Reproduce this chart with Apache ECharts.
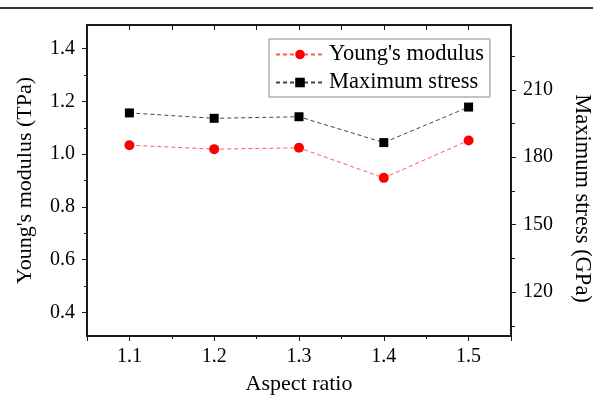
<!DOCTYPE html>
<html>
<head>
<meta charset="utf-8">
<script src="https://cdn.jsdelivr.net/npm/echarts@6/dist/echarts.min.js"></script>
<style>
  html, body { margin: 0; padding: 0; background: #fff; }
  #wrap { position: relative; width: 593px; height: 397px; }
  #rule { position: absolute; left: 0; top: 7px; width: 593px; height: 2px; background: #333; }
  #chart { position: absolute; left: 0; top: 0; width: 593px; height: 397px; }
</style>
</head>
<body>
<div id="wrap">
  <div id="rule"></div>
  <div id="chart"></div>
</div>
<script>
// values
const ratios = [1.1, 1.2, 1.3, 1.4, 1.5];
const modulus = [1.034, 1.019, 1.024, 0.910, 1.052];
const stress = [199.7, 197.3, 198.0, 186.5, 202.3];
const modulusTicks = [0.4, 0.6, 0.8, 1.0, 1.2, 1.4];
const stressTicks = [120, 150, 180, 210];

const font = 'Liberation Serif';
const line = () => ({ show: true, onZero: false, lineStyle: { color: '#1a1a1a', width: 2 } });
const nameStyle = size => ({ fontFamily: font, fontSize: size, color: '#000' });
const tick = { color: '#1a1a1a', width: 1 };

var myChart = echarts.init(document.getElementById('chart'));
myChart.setOption({
    animation: false,
    grid: { left: 87, right: 82, top: 25, bottom: 61, outerBoundsMode: 'none' },
    legend: {
        orient: 'vertical',
        left: 269,
        top: 39,
        padding: [4, 6, 3, 6],
        itemGap: 5,
        itemWidth: 48,
        itemHeight: 12,
        borderColor: '#888',
        borderWidth: 1,
        textStyle: nameStyle(22.5),
        data: ["Young's modulus", 'Maximum stress']
    },
    xAxis: [
        {
            type: 'value',
            min: 1.05,
            max: 1.55,
            name: 'Aspect ratio',
            nameLocation: 'middle',
            nameGap: 37,
            nameTextStyle: nameStyle(22),
            axisLine: line(),
            axisTick: { length: 5, lineStyle: tick },
            minorTick: { show: true, splitNumber: 2, length: 3, lineStyle: tick },
            axisLabel: {
                customValues: ratios,
                margin: 11,
                fontFamily: font, fontSize: 20, color: '#000',
                formatter: v => v.toFixed(1)
            },
            splitLine: { show: false }
        },
        {
            type: 'value',
            position: 'top',
            min: 1.05,
            max: 1.55,
            axisLine: line(),
            axisTick: { inside: true, length: 5, lineStyle: tick },
            minorTick: { show: true, splitNumber: 2, length: 5, lineStyle: tick },
            axisLabel: { show: false },
            splitLine: { show: false }
        }
    ],
    yAxis: [
        {
            type: 'value',
            min: 0.31,
            max: 1.49,
            name: "Young's modulus (TPa)",
            nameLocation: 'middle',
            nameGap: 51,
            nameTextStyle: nameStyle(22),
            axisLine: line(),
            axisTick: { customValues: modulusTicks, length: 5, lineStyle: tick },
            minorTick: { show: true, splitNumber: 2, length: 3, lineStyle: tick },
            axisLabel: {
                customValues: modulusTicks,
                margin: 12,
                fontFamily: font, fontSize: 20, color: '#000',
                formatter: v => v.toFixed(1)
            },
            splitLine: { show: false }
        },
        {
            type: 'value',
            position: 'right',
            min: 100.5,
            max: 238.8,
            name: 'Maximum stress (GPa)',
            nameLocation: 'middle',
            nameGap: 59,
            nameRotate: -90,
            nameTextStyle: Object.assign(nameStyle(22.5), { padding: [0, 0, 0, 36] }),
            axisLine: line(),
            axisTick: { customValues: stressTicks, length: 5, lineStyle: tick },
            minorTick: { show: true, splitNumber: 2, length: 4, lineStyle: tick },
            axisLabel: {
                customValues: stressTicks,
                margin: 12,
                fontFamily: font, fontSize: 20, color: '#000'
            },
            splitLine: { show: false }
        }
    ],
    series: [
        {
            name: "Young's modulus",
            type: 'line',
            xAxisIndex: 0,
            yAxisIndex: 0,
            data: ratios.map((x, i) => [x, modulus[i]]),
            symbol: 'circle',
            symbolSize: 10,
            itemStyle: { color: '#ff0000' },
            lineStyle: { color: '#ff5a5a', width: 1, type: [4, 3] }
        },
        {
            name: 'Maximum stress',
            type: 'line',
            xAxisIndex: 0,
            yAxisIndex: 1,
            data: ratios.map((x, i) => [x, stress[i]]),
            symbol: 'rect',
            symbolSize: 9,
            itemStyle: { color: '#000' },
            lineStyle: { color: '#444', width: 1, type: [4, 3] }
        }
    ]
});
</script>
</body>
</html>
